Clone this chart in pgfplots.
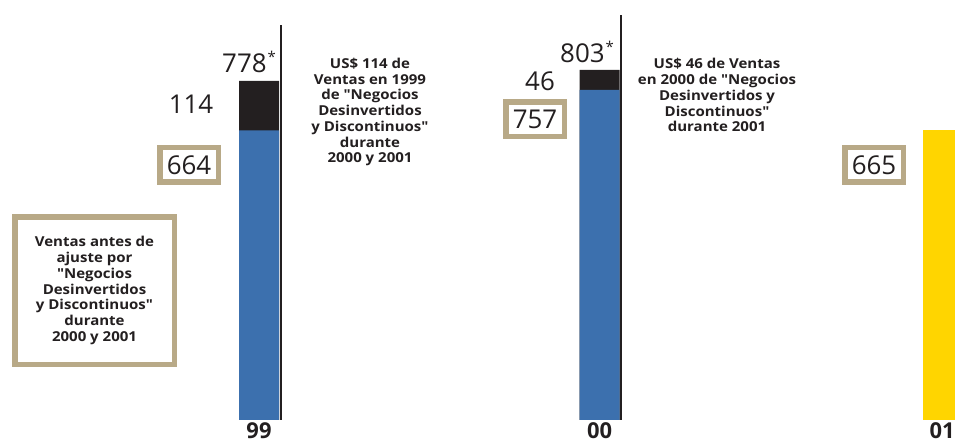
\documentclass[border=0pt]{standalone}
\usepackage{pgfplots}
\pgfplotsset{compat=1.18}
\usepackage{fontspec}
\setmainfont{Open Sans}
\newfontfamily\notefont[FakeStretch=1.1]{Open Sans}
\newcommand{\q}{\char34{}}
\definecolor{barblue}{RGB}{60,112,174}
\definecolor{barblack}{RGB}{35,31,32}
\definecolor{baryellow}{RGB}{255,213,0}
\definecolor{tanbox}{RGB}{184,169,135}
\tikzset{
  big/.style={font=\fontsize{26}{26}\selectfont, text=barblack},
  note/.style={font=\notefont\fontsize{13.7}{15.8}\selectfont\bfseries, align=center, text=barblack},
  boxed/.style={big, draw=tanbox, line width=5.5bp, fill=white, inner sep=0pt, minimum width=58.5bp, minimum height=34.5bp},
  xlab/.style={font=\fontsize{22}{22}\selectfont\bfseries, text=barblack, anchor=base, inner sep=0pt}}
\begin{document}
\begin{tikzpicture}
\useasboundingbox (0,0) rectangle (955bp,445bp);
\begin{axis}[at={(0,0)},anchor=south west, scale only axis,
  width=955bp, height=445bp, xmin=0, xmax=955, ymin=-57.34, ymax=963.3,
  hide axis, ybar, bar shift=0pt, bar width=40, clip=true]
\addplot[fill=barblack,draw=none] coordinates {(259,778) (599.5,803)};
\addplot[fill=barblue,draw=none] coordinates {(259,664) (599.5,757)};
\addplot[fill=baryellow,draw=none] coordinates {(943,665)};
\draw[barblack,line width=2bp] (axis cs:280.5,0) -- (axis cs:280.5,906);
\draw[barblack,line width=2bp] (axis cs:620.5,0) -- (axis cs:620.5,929);
% 99
\node[big,anchor=base west,inner sep=0pt] at (axis cs:222,796) {778\hspace{1bp}\raisebox{10bp}{\fontsize{15}{15}\selectfont *}};
\node[big] at (axis cs:191,725) {114};
\node[boxed] at (axis cs:189,585) {664};
\node[note] at (axis cs:370,706) {US\$ 114 de\\Ventas en 1999\\de \q Negocios\\Desinvertidos\\y Discontinuos\q\\durante\\2000 y 2001};
% 00
\node[big,anchor=base west,inner sep=0pt] at (axis cs:560,819) {803\hspace{1bp}\raisebox{10bp}{\fontsize{15}{15}\selectfont *}};
\node[big] at (axis cs:540,777.5) {46};
\node[boxed] at (axis cs:535,690) {757};
\node[note] at (axis cs:717,745) {US\$ 46 de Ventas\\en 2000 de \q Negocios\\Desinvertidos y\\Discontinuos\q\\durante 2001};
% 01
\node[boxed] at (axis cs:874,585) {665};
% left box
\node[note, draw=tanbox, line width=5.5bp, fill=white, minimum width=159.5bp, minimum height=147.5bp, inner sep=0pt] at (axis cs:94.5,297) {Ventas antes de\\ajuste por\\\q Negocios\\Desinvertidos\\y Discontinuos\q\\durante\\2000 y 2001};
% x labels
\node[xlab] at (axis cs:259,-43) {99};
\node[xlab] at (axis cs:599.5,-43) {00};
\node[xlab] at (axis cs:942,-43) {01};
\end{axis}
\end{tikzpicture}
\end{document}
